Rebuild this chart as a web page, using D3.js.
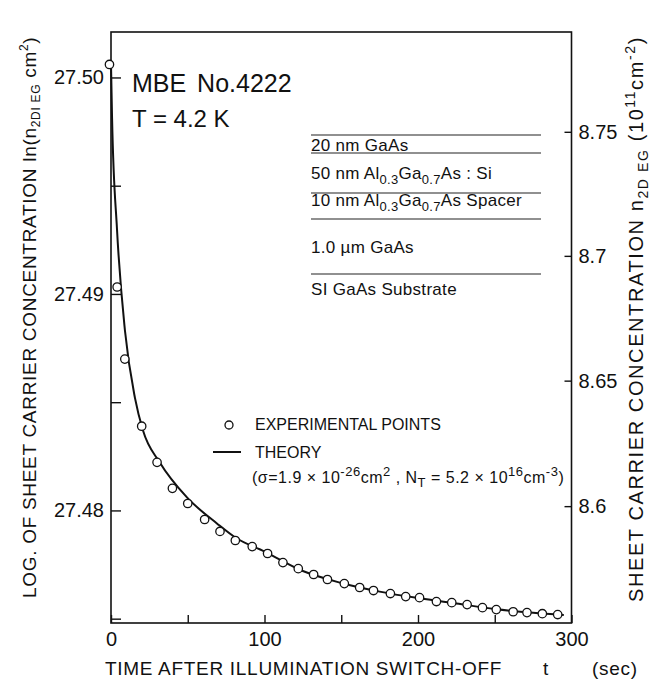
<!DOCTYPE html>
<html>
<head lang="en">
    <meta charset="UTF-8">
    <title></title>
    <script src="https://cdn.jsdelivr.net/npm/d3@7/dist/d3.min.js"></script>
    <style>
        body{margin:0;background:#fff;}
        text{font-family:"Liberation Sans",Arial,sans-serif;fill:#111;}
    </style>
</head>
<body>
<div id="tu1" style="width:653px;height:681px;"></div>
<script>
    // experimental points: time (sec) and ln(n2D EG cm^2)
    var tExp=[-1,4,9,20,30,40,50,61,71,81,92,102,112,122,132,141,152,162,171,182,192,201,212,222,232,242,251,262,271,281,291];
    var lnExp=[27.50060,27.49032,27.48699,27.48389,27.48222,27.48102,27.48032,27.47958,27.47903,27.47861,27.47833,27.47801,
        27.47759,27.47731,27.47704,27.47681,27.47662,27.47644,27.47630,27.47616,27.47602,27.47597,27.47579,27.47574,
        27.47565,27.47551,27.47542,27.47532,27.47528,27.47523,27.47519];
    // theory curve
    var tTheory=[0,0.7,3.9,9.1,15.6,20.8,31.9,49.5,69,81,100,125,150,175,200,225,250,275,295];
    var lnTheory=[27.5006,27.4981,27.4930,27.4883,27.4852,27.4837,27.4822,27.4806,27.4794,27.47875,27.4781,27.4772,
        27.47665,27.47625,27.47595,27.4757,27.47545,27.47527,27.47517];
    var xTicks=[0,50,100,150,200,250,300];
    var yTicks=[27.475,27.48,27.485,27.49,27.495,27.50];
    var nTicks=[8.6,8.65,8.7,8.75];
    var layers=[
        [{t:"20 nm GaAs"}],
        [{t:"50 nm Al"},{t:"0.3",s:1},{t:"Ga"},{t:"0.7",s:1},{t:"As : Si"}],
        [{t:"10 nm Al"},{t:"0.3",s:1},{t:"Ga"},{t:"0.7",s:1},{t:"As  Spacer"}],
        [{t:"1.0 \u00b5m GaAs"}],
        [{t:"SI GaAs Substrate"}]
    ];
    var layerBase=[151,179,206,253,295];
    var layerLines=[135,153,193,219,274];

    var svgwidth=653,svgheight=681;
    var _svg=d3.select("#tu1").append("svg")
            .attr("width",svgwidth)
            .attr("height",svgheight);

    var x0=111,x1=571.5,yTop=32,yBot=623;
    var xs=d3.scaleLinear().domain([0,300]).range([x0,x1]);
    var ys=d3.scaleLinear().domain([27.4748,27.5021]).range([yBot,yTop]);
    // right axis: n2D EG in 1e11 cm^-2, ln(n) on left
    var yr=d3.scaleLog().domain([Math.exp(27.4748)/1e11,Math.exp(27.5021)/1e11]).range([yBot,yTop]);

    //frame
    _svg.append("rect").attr("x",x0).attr("y",yTop).attr("width",x1-x0).attr("height",yBot-yTop)
            .attr("fill","none").attr("stroke","#111").attr("stroke-width",1.6);

    function styleAxis(g){
        g.select(".domain").remove();
        g.selectAll("line").attr("stroke","#111").attr("stroke-width",1.4);
        g.selectAll("text").attr("font-size",20).attr("fill","#111")
                .style("font-family","'Liberation Sans',Arial,sans-serif");
    }
    var gx=_svg.append("g").attr("transform","translate(0,"+yBot+")")
            .call(d3.axisBottom(xs).tickValues(xTicks).tickSize(-8).tickPadding(9)
                    .tickFormat(function(d){return d%100===0?d:"";}));
    styleAxis(gx);
    var gy=_svg.append("g").attr("transform","translate("+x0+",0)")
            .call(d3.axisLeft(ys).tickValues(yTicks).tickSize(-10).tickPadding(7)
                    .tickFormat(function(d){return Math.round(d*1000)%10===0?d3.format(".2f")(d):"";}));
    styleAxis(gy);
    var gr=_svg.append("g").attr("transform","translate("+x1+",0)")
            .call(d3.axisRight(yr).tickValues(nTicks).tickSize(-7).tickPadding(7)
                    .tickFormat(function(d){return String(d);}));
    styleAxis(gr);

    //theory line
    var _line=d3.line()
            .x(function(d){return xs(d[0]);})
            .y(function(d){return ys(d[1]);})
            .curve(d3.curveMonotoneX);
    _svg.append("path").attr("d",_line(d3.zip(tTheory,lnTheory)))
            .attr("fill","none").attr("stroke","#111").attr("stroke-width",2);

    //points
    _svg.append("g").selectAll("circle").data(d3.zip(tExp,lnExp)).enter()
            .append("circle")
            .attr("cx",function(d){return xs(d[0]);})
            .attr("cy",function(d){return ys(d[1]);})
            .attr("r",4.2)
            .attr("fill","#fff").attr("stroke","#111").attr("stroke-width",1.3);

    //sample info
    _svg.append("text").attr("x",132).attr("y",92).attr("font-size",25).attr("word-spacing",4).text("MBE No.4222");
    _svg.append("text").attr("x",132).attr("y",127).attr("font-size",24).text("T = 4.2 K");

    //layer stack
    _svg.append("g").selectAll("line").data(layerLines).enter().append("line")
            .attr("x1",311).attr("x2",541).attr("y1",function(d){return d;}).attr("y2",function(d){return d;})
            .attr("stroke","#222").attr("stroke-width",1.2);
    layers.forEach(function(parts,i){
        var t=_svg.append("text").attr("x",311).attr("y",layerBase[i]).attr("font-size",17).attr("letter-spacing",0.3);
        var prev=0;
        parts.forEach(function(p){
            var off=p.s?5:0;
            t.append("tspan").attr("dy",off-prev).attr("font-size",p.s?13:17).text(p.t);
            prev=off;
        });
    });

    //legend
    _svg.append("circle").attr("cx",229).attr("cy",425).attr("r",4).attr("fill","#fff").attr("stroke","#111").attr("stroke-width",1.3);
    _svg.append("text").attr("x",255).attr("y",430).attr("font-size",16).text("EXPERIMENTAL POINTS");
    _svg.append("line").attr("x1",213).attr("x2",241).attr("y1",452).attr("y2",452).attr("stroke","#111").attr("stroke-width",2);
    _svg.append("text").attr("x",255).attr("y",458).attr("font-size",16).text("THEORY");
    var f=_svg.append("text").attr("x",252).attr("y",483).attr("font-size",16).attr("letter-spacing",0.5);
    f.append("tspan").text("(\u03c3=1.9 \u00d7 10");
    f.append("tspan").attr("dy",-7).attr("font-size",13).text("-26");
    f.append("tspan").attr("dy",7).text("cm");
    f.append("tspan").attr("dy",-7).attr("font-size",13).text("2");
    f.append("tspan").attr("dy",7).text(" , N");
    f.append("tspan").attr("dy",4).attr("font-size",13).text("T");
    f.append("tspan").attr("dy",-4).text(" = 5.2 \u00d7 10");
    f.append("tspan").attr("dy",-7).attr("font-size",13).text("16");
    f.append("tspan").attr("dy",7).text("cm");
    f.append("tspan").attr("dy",-7).attr("font-size",13).text("-3");
    f.append("tspan").attr("dy",7).text(")");

    //axis titles
    var xt=_svg.append("text").attr("y",675).attr("font-size",19).attr("letter-spacing",0.7);
    xt.append("tspan").attr("x",105).text("TIME AFTER ILLUMINATION SWITCH-OFF");
    xt.append("tspan").attr("x",543).text("t");
    xt.append("tspan").attr("x",592).text("(sec)");

    var lt=_svg.append("text").attr("transform","translate(36,598) rotate(-90)")
            .attr("font-size",19).attr("letter-spacing",0.7);
    lt.append("tspan").text("LOG. OF SHEET CARRIER CONCENTRATION  ln(n");
    lt.append("tspan").attr("dy",4).attr("font-size",12).text("2DI EG");
    lt.append("tspan").attr("dy",-4).text(" cm");
    lt.append("tspan").attr("dy",-8).attr("font-size",12).text("2");
    lt.append("tspan").attr("dy",8).text(")");

    var rt=_svg.append("text").attr("transform","translate(643,602) rotate(-90)")
            .attr("font-size",20).attr("letter-spacing",1.6);
    rt.append("tspan").text("SHEET CARRIER CONCENTRATION   n");
    rt.append("tspan").attr("dy",5).attr("font-size",14).text("2D EG");
    rt.append("tspan").attr("dy",-5).text(" (10");
    rt.append("tspan").attr("dy",-8).attr("font-size",14).text("11");
    rt.append("tspan").attr("dy",8).text("cm");
    rt.append("tspan").attr("dy",-8).attr("font-size",14).text("-2");
    rt.append("tspan").attr("dy",8).text(")");
</script>
</body>
</html>
